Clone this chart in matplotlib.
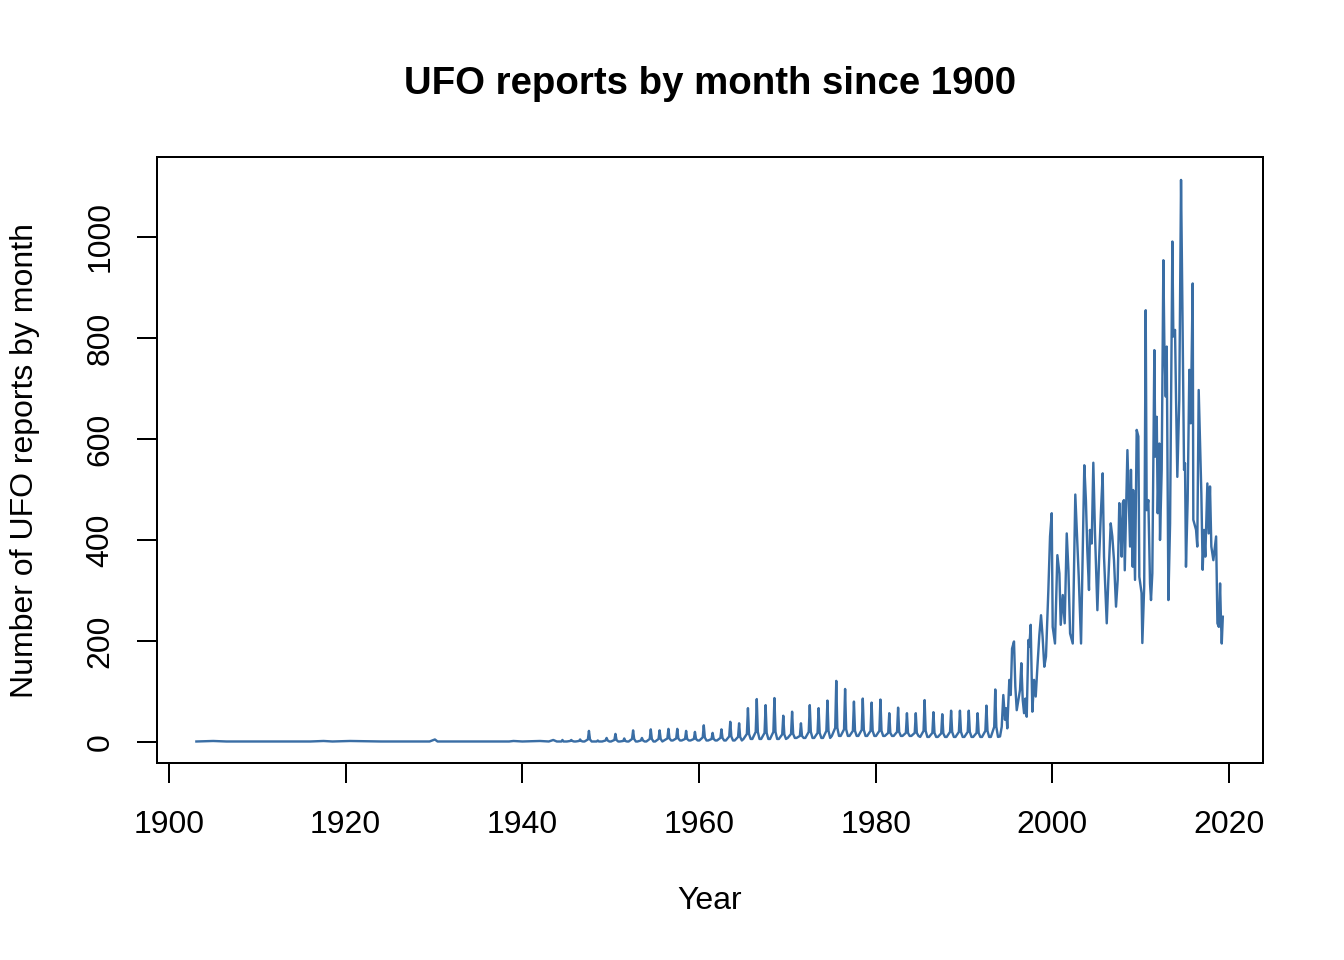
import numpy as np
import matplotlib
matplotlib.use("Agg")
import matplotlib.pyplot as plt

# early years: almost nothing reported
early_t = [1903.1, 1905.0, 1906.5, 1910.0, 1916.0, 1917.5, 1918.5, 1920.5, 1924.0,
           1929.5, 1930.1, 1930.4, 1935.0, 1938.5, 1939.0, 1940.0, 1942.0, 1943.0,
           1943.5, 1943.9]
early_v = [1, 2, 1, 1, 1, 2, 1, 2, 1,
           1, 5, 1, 1, 1, 2, 1, 2, 1,
           4, 1]

# 1944-1993: one summer spike per year
spike_years = list(range(1944, 1994))
spike_peak = [4, 4, 5, 22, 3, 8, 16, 7, 23, 8,
              25, 23, 26, 26, 22, 20, 33, 18, 25, 40,
              37, 67, 85, 73, 87, 52, 60, 37, 73, 67,
              82, 121, 105, 80, 86, 78, 84, 57, 68, 57,
              57, 83, 59, 55, 62, 62, 62, 57, 72, 104]
spike_autumn = [1, 2, 2, 5, 1, 3, 4, 2, 6, 3,
                6, 6, 7, 7, 6, 6, 9, 6, 8, 11,
                10, 16, 20, 18, 20, 15, 16, 12, 20, 18,
                22, 28, 25, 22, 24, 22, 22, 18, 20, 18,
                18, 22, 18, 17, 20, 20, 20, 18, 22, 30]
spike_trough = [1, 1, 1, 1, 1, 1, 1, 1, 1, 1,
                1, 1, 3, 3, 3, 3, 3, 3, 3, 3,
                3, 6, 6, 6, 6, 6, 8, 8, 8, 8,
                8, 12, 12, 12, 12, 12, 12, 12, 12, 12,
                12, 10, 10, 10, 10, 10, 10, 10, 10, 10]

# 1994 onwards
recent_t = [1994.08, 1994.27, 1994.45, 1994.64, 1994.76, 1994.90, 1995.13, 1995.29,
            1995.44, 1995.66, 1995.81, 1995.97, 1996.15, 1996.34, 1996.49, 1996.65,
            1996.80, 1996.95, 1997.10, 1997.29, 1997.40, 1997.55, 1997.74, 1997.93,
            1998.12, 1998.30, 1998.53, 1998.72, 1998.90, 1999.09, 1999.28, 1999.55,
            1999.74, 1999.93, 2000.04, 2000.30, 2000.57, 2000.80, 2000.95, 2001.18,
            2001.40, 2001.63, 2001.82, 2002.01, 2002.31, 2002.60, 2002.99, 2003.25,
            2003.62, 2003.80, 2003.96, 2004.15, 2004.26, 2004.46, 2004.64, 2004.83,
            2005.10, 2005.29, 2005.51, 2005.70, 2005.85, 2006.16, 2006.34, 2006.61,
            2006.79, 2006.98, 2007.21, 2007.40, 2007.58, 2007.74, 2007.85, 2007.97,
            2008.10, 2008.20, 2008.50, 2008.80, 2008.90, 2009.10, 2009.15, 2009.36,
            2009.55, 2009.74, 2009.85, 2010.10, 2010.19, 2010.40, 2010.57, 2010.68,
            2010.87, 2011.06, 2011.17, 2011.32, 2011.55, 2011.66, 2011.82, 2011.93,
            2012.11, 2012.19, 2012.38, 2012.57, 2012.68, 2012.84, 2012.95, 2013.14,
            2013.33, 2013.59, 2013.70, 2013.89, 2014.00, 2014.15, 2014.37, 2014.57,
            2014.72, 2014.91, 2015.02, 2015.13, 2015.32, 2015.51, 2015.67, 2015.89,
            2015.96, 2016.27, 2016.41, 2016.57, 2016.72, 2016.87, 2017.02, 2017.17,
            2017.32, 2017.55, 2017.70, 2017.85, 2018.00, 2018.23, 2018.54, 2018.69,
            2018.85, 2018.99, 2019.10, 2019.18, 2019.30]
recent_v = [11, 30, 93, 44, 67, 27, 123, 93,
            185, 199, 110, 63, 83, 103, 156, 83,
            57, 86, 50, 202, 189, 232, 60, 123,
            90, 146, 212, 251, 208, 149, 169, 301,
            407, 453, 228, 195, 370, 334, 232, 291,
            235, 413, 341, 215, 195, 490, 327, 195,
            548, 479, 380, 301, 420, 393, 553, 413,
            261, 360, 459, 532, 367, 235, 321, 433,
            407, 360, 268, 321, 473, 413, 367, 473,
            479, 340, 578, 387, 539, 347, 499, 321,
            618, 605, 327, 295, 196, 308, 855, 459,
            479, 314, 281, 334, 776, 565, 644, 453,
            591, 400, 539, 954, 789, 684, 783, 281,
            433, 991, 803, 816, 684, 525, 677, 1113,
            869, 539, 552, 347, 479, 737, 631, 908,
            440, 420, 387, 697, 598, 492, 341, 420,
            367, 512, 413, 506, 387, 360, 407, 235,
            228, 314, 235, 195, 248]

# assemble the monthly-ish series
t = list(early_t)
v = list(early_v)
for y, pk, au, tr in zip(spike_years, spike_peak, spike_autumn, spike_trough):
    t += [y + 0.04, y + 0.42, y + 0.54, y + 0.66, y + 0.85]
    v += [tr, au, pk, au, tr]
t += recent_t
v += recent_v

plt.rcParams['font.family'] = ['Liberation Sans', 'DejaVu Sans']

fig = plt.figure(figsize=(7, 5), dpi=192)
ax = fig.add_axes([157 / 1344, 1 - 763 / 960, (1263 - 157) / 1344, (763 - 157) / 960])
ax.plot(t, v, color='#3a6ea5', linewidth=0.9)

ax.set_xlim(1900 - 12 / 8.833, 2020 + 34 / 8.833)
ax.set_ylim(-41.6, 1158.4)
ax.set_xticks(np.arange(1900, 2021, 20))
ax.set_yticks(np.arange(0, 1001, 200))
ax.tick_params(direction='out', length=7.5, width=0.75, labelsize=12, color='black')
ax.tick_params(axis='x', pad=10)
ax.tick_params(axis='y', pad=8)
for lab in ax.get_yticklabels():
    lab.set_rotation(90)
    lab.set_va('center')
for s in ax.spines.values():
    s.set_linewidth(0.75)

fig.text(710 / 1344, 1 - 94 / 960, 'UFO reports by month since 1900', ha='center',
         va='baseline', fontsize=14.4, fontweight='bold')
fig.text(710 / 1344, 1 - 901 / 960, 'Year', ha='center', va='center', fontsize=12)
fig.text(25 / 1344, 1 - 460 / 960, 'Number of UFO reports by month', ha='center',
         va='center', rotation='vertical', fontsize=12)

fig.savefig('out.png', dpi=192)
